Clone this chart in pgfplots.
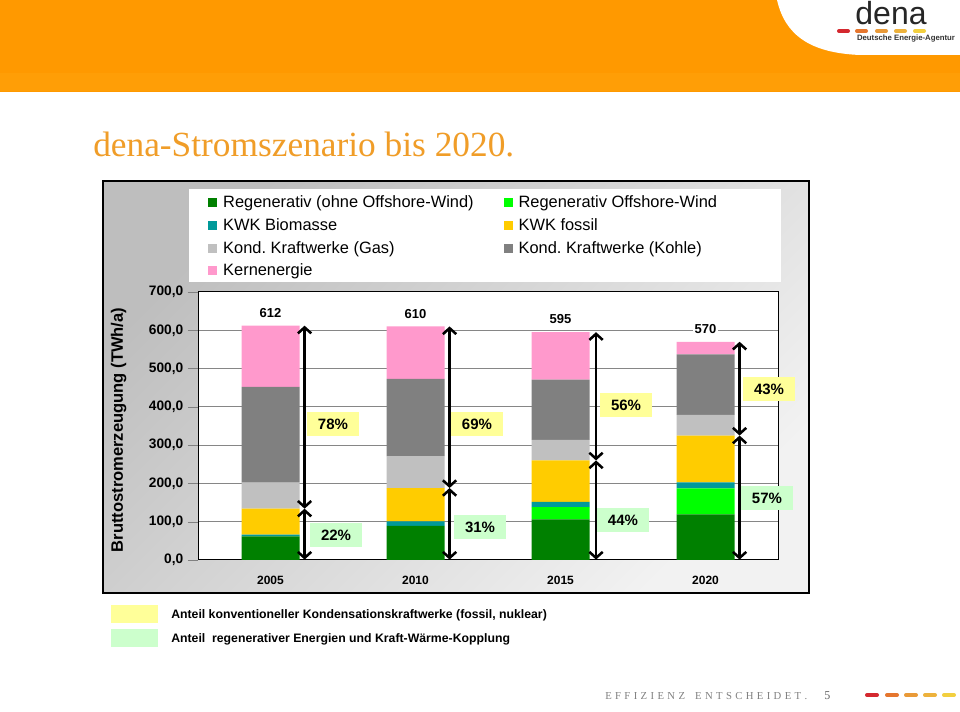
\documentclass[border=0pt]{standalone}
\usepackage{pgfplots}
\pgfplotsset{compat=1.18}
\usepackage{pgfplotstable}
\usepackage{fontspec}
\setmainfont{Liberation Sans}
\newfontfamily\seriffont{Liberation Serif}
\usetikzlibrary{arrows.meta}
\frenchspacing

\definecolor{cReg}{RGB}{0,128,0}
\definecolor{cOff}{RGB}{0,255,0}
\definecolor{cBio}{RGB}{0,153,153}
\definecolor{cFos}{RGB}{255,204,0}
\definecolor{cGas}{RGB}{192,192,192}
\definecolor{cKoh}{RGB}{128,128,128}
\definecolor{cKern}{RGB}{255,153,204}
\definecolor{cYel}{RGB}{255,255,153}
\definecolor{cGrn}{RGB}{204,255,204}
\definecolor{cOrange}{RGB}{255,153,0}
\definecolor{cOrangeL}{RGB}{255,158,6}
\definecolor{cTitle}{RGB}{240,157,40}
\definecolor{cGrid}{RGB}{134,134,134}
\definecolor{d1}{RGB}{212,40,47}
\definecolor{d2}{RGB}{229,118,46}
\definecolor{d3}{RGB}{233,154,56}
\definecolor{d4}{RGB}{237,178,60}
\definecolor{d5}{RGB}{242,207,63}
\definecolor{fTop}{RGB}{190,190,190}
\definecolor{fBot}{RGB}{242,242,242}

\pgfplotstableread{
x Reg Off Bio Fos Gas Koh Kern
0 62 0 4 68 68 250 160
1 89 0 12 87 83 202 137
2 106 32 14 108 54 157 124
3 119 68 16 122 54 158 33
}\data

\pgfplotsset{
  sqleg/.style={legend image code/.code={\fill[##1,draw=none] (0pt,-3.375pt) rectangle (6.75pt,3.375pt);}},
  arr/.style={black, mark=none, line width=1.9pt,
    arrows={Straight Barb[length=4.5pt,width=10pt]-Straight Barb[length=4.5pt,width=10pt]}},
}
\tikzset{
  pctY/.style={fill=cYel, minimum width=39pt, minimum height=18pt, inner sep=0pt, font=\bfseries\fontsize{11.25}{12}\selectfont},
  pctG/.style={pctY, fill=cGrn},
  tot/.style={fill=white, inner sep=1pt, font=\bfseries\fontsize{9.75}{11}\selectfont},
}

\begin{document}
\begin{tikzpicture}[x=0.75pt,y=0.75pt]
\useasboundingbox (0,0) rectangle (960,712);
\fill[white] (0,0) rectangle (960,712);
% header band
\fill[cOrange] (0,620) rectangle (960,712);
\fill[cOrangeL] (0,621) rectangle (960,639);
\fill[white] (777,712) .. controls (785,677) and (810,659) .. (860,657) -- (960,657) -- (960,712) -- cycle;
\node[anchor=base, inner sep=0, font=\fontsize{24}{24}\selectfont, text=black!85] at (891,687) {dena};
\foreach \xa/\c in {837/d1,855/d2,875/d3,894/d4,913/d5}
  \draw[\c, line width=3pt, line cap=round] (\xa+2,681) -- (\xa+11,681);
\node[inner sep=0, text=black!80, font=\bfseries] at (906,673) {\resizebox{73.5pt}{!}{Deutsche Energie-Agentur}};
% title
\node[anchor=base west, inner sep=0, text=cTitle, font=\seriffont\fontsize{26.5}{26.5}\selectfont] at (93,555) {dena-Stromszenario bis 2020.};
% chart frame
\shade[top color=fTop, bottom color=fBot, shading angle=45] (103,119) rectangle (809,531);
\draw[black, line width=0.9pt] (103,119) rectangle (809,531);
\fill[white] (189,430) rectangle (781,523);

\begin{axis}[
  at={(148.5pt,114pt)}, anchor=south west,
  width=435pt, height=201pt, scale only axis,
  ybar stacked, bar width=43.5pt,
  every axis plot post/.append style={sqleg},
  xmin=-0.5, xmax=3.5, ymin=0, ymax=700,
  xtick={0,1,2,3}, xticklabels={2005,2010,2015,2020},
  ytick={0,100,...,700},
  x tick style={draw=none},
  tick align=outside, major tick length=7.5pt,
  xtick pos=bottom, ytick pos=left,
  ymajorgrids, major grid style={cGrid, line width=0.75pt},
  axis line style={black, line width=0.75pt},
  axis background/.style={fill=white},
  /pgf/number format/fixed, /pgf/number format/fixed zerofill,
  /pgf/number format/precision=1, /pgf/number format/use comma,
  /pgf/number format/assume math mode=true,
  yticklabel style={font=\bfseries\fontsize{10.3}{12}\selectfont},
  xticklabel style={font=\bfseries\fontsize{9}{11}\selectfont, yshift=-1pt},
  ylabel={Bruttostromerzeugung (TWh/a)},
  ylabel style={at={(axis description cs:-0.137,0.485)}, anchor=center, font=\bfseries\fontsize{12.4}{14}\selectfont},
  legend columns=2,
  legend cell align=left,
  legend style={at={(0.0172,1.3695)}, anchor=north west, draw=none, fill=none,
    inner sep=0pt, font=\fontsize{12.3}{14}\selectfont, row sep=2.6pt,
    /tikz/every odd column/.append style={column sep=2.5pt},
    /tikz/every even column/.append style={column sep=20.5pt}},
]
\addplot[fill=cReg, draw=none] table[x=x,y=Reg]{\data};
\addlegendentry{Regenerativ (ohne Offshore-Wind)}
\addplot[fill=cOff, draw=none] table[x=x,y=Off]{\data};
\addlegendentry{Regenerativ Offshore-Wind}
\addplot[fill=cBio, draw=none] table[x=x,y=Bio]{\data};
\addlegendentry{KWK Biomasse}
\addplot[fill=cFos, draw=none] table[x=x,y=Fos]{\data};
\addlegendentry{KWK fossil}
\addplot[fill=cGas, draw=none] table[x=x,y=Gas]{\data};
\addlegendentry{Kond. Kraftwerke (Gas)}
\addplot[fill=cKoh, draw=none] table[x=x,y=Koh]{\data};
\addlegendentry{Kond. Kraftwerke (Kohle)}
\addplot[fill=cKern, draw=none] table[x=x,y=Kern]{\data};
\addlegendentry{Kernenergie}
\end{axis}

\begin{axis}[
  at={(148.5pt,114pt)}, anchor=south west,
  width=435pt, height=201pt, scale only axis,
  xmin=-0.5, xmax=3.5, ymin=0, ymax=700,
  hide axis, clip=false,
]
\addplot[arr] coordinates {(0.235,612) (0.235,134)};
\addplot[arr] coordinates {(0.235,134) (0.235,1)};
\addplot[arr] coordinates {(1.235,610) (1.235,188)};
\addplot[arr] coordinates {(1.235,188) (1.235,1)};
\addplot[arr] coordinates {(2.245,595) (2.245,260)};
\addplot[arr] coordinates {(2.245,260) (2.245,1)};
\addplot[arr] coordinates {(3.235,570) (3.235,325)};
\addplot[arr] coordinates {(3.235,325) (3.235,1)};
\node[tot] at (axis cs:0,645) {612};
\node[tot] at (axis cs:1,643) {610};
\node[tot] at (axis cs:2,629) {595};
\node[tot] at (axis cs:3,604) {570};
\node[pctY] at (axis cs:0.431,355) {78\%};
\node[pctG] at (axis cs:0.452,65) {22\%};
\node[pctY] at (axis cs:1.424,355) {69\%};
\node[pctG] at (axis cs:1.445,86) {31\%};
\node[pctY] at (axis cs:2.452,405) {56\%};
\node[pctG] at (axis cs:2.431,104) {44\%};
\node[pctY] at (axis cs:3.438,447) {43\%};
\node[pctG] at (axis cs:3.424,162) {57\%};
\end{axis}

% bottom legend
\fill[cYel] (111,89) rectangle (158,107);
\fill[cGrn] (111,65) rectangle (158,83);
\node[anchor=base west, inner sep=0, font=\bfseries\fontsize{9.2}{10}\selectfont] at (171,93) {Anteil konventioneller Kondensationskraftwerke (fossil, nuklear)};
\node[anchor=base west, inner sep=0, font=\bfseries\fontsize{9.2}{10}\selectfont] at (171,69) {Anteil\ \ regenerativer Energien und Kraft-Wärme-Kopplung};

% footer
\node[anchor=base west, inner sep=0, text=black!50, font=\seriffont\fontsize{8}{8}\selectfont] at (605,12)
  {\makebox[151.5pt][s]{E\hfil F\hfil F\hfil I\hfil Z\hfil I\hfil E\hfil N\hfil Z\hfil\hfil\hfil E\hfil N\hfil T\hfil S\hfil C\hfil H\hfil E\hfil I\hfil D\hfil E\hfil T\hfil .}};
\node[anchor=base west, inner sep=0, text=black!60, font=\seriffont\fontsize{9}{9}\selectfont] at (824,12) {5};
\foreach \xa/\c in {865/d1,885/d2,904/d3,923/d4,942/d5}
  \draw[\c, line width=3pt, line cap=round] (\xa+2,17) -- (\xa+12,17);
\end{tikzpicture}
\end{document}
